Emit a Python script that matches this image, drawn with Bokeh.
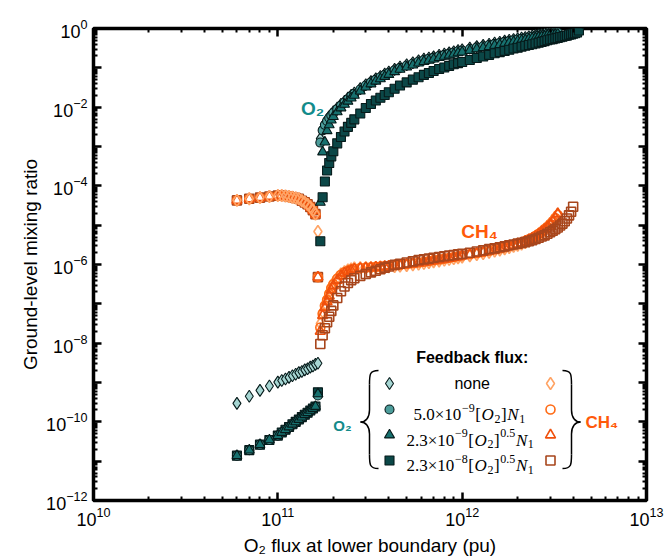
import numpy as np
from bokeh.plotting import figure
from bokeh.models import (FixedTicker, LogTickFormatter, LogAxis, Label, Range1d,
                          CustomJSTickFormatter)
from bokeh.embed import file_html
from bokeh.resources import INLINE

# ---------------- data ----------------
# O2 flux at lower boundary (pu)
x_anoxic = [6.0e10, 7.0e10, 8.0e10, 9.0e10, 1.00e11, 1.05e11, 1.10e11, 1.15e11, 1.20e11,
            1.25e11, 1.30e11, 1.35e11, 1.40e11, 1.45e11, 1.50e11, 1.55e11, 1.60e11, 1.65e11]
x_oxic = [1.70e11, 1.75e11, 1.80e11, 1.85e11, 1.90e11, 1.95e11, 2.0e11, 2.1e11, 2.2e11, 2.3e11,
          2.4e11, 2.5e11, 2.6e11, 2.8e11, 3.0e11, 3.2e11, 3.4e11, 3.6e11, 3.8e11, 4.0e11,
          4.3e11, 4.6e11, 5.0e11, 5.4e11, 5.8e11, 6.2e11, 6.6e11, 7.0e11, 7.5e11, 8.0e11,
          8.5e11, 9.0e11, 9.5e11, 1.0e12, 1.1e12, 1.2e12, 1.3e12, 1.4e12, 1.5e12, 1.6e12,
          1.7e12, 1.8e12, 1.9e12, 2.0e12, 2.1e12, 2.2e12, 2.3e12, 2.4e12, 2.5e12, 2.6e12,
          2.7e12, 2.8e12, 2.9e12, 3.0e12, 3.1e12, 3.2e12, 3.3e12, 3.4e12, 3.5e12, 3.6e12,
          3.7e12, 3.8e12, 3.9e12, 4.0e12, 4.1e12, 4.2e12, 4.3e12]

# log10 of ground-level mixing ratio, anoxic branch
o2_none_anoxic = [-9.53, -9.35, -9.20, -9.09, -8.99, -8.95, -8.91, -8.87, -8.83,
                  -8.79, -8.75, -8.72, -8.68, -8.65, -8.61, -8.58, -8.54, -8.51]
o2_lin_anoxic = [-10.86, -10.72, -10.58, -10.46, -10.35, -10.27, -10.20, -10.13, -10.06,
                 -10.00, -9.94, -9.88, -9.82, -9.77, -9.71, -9.66, -9.61, -9.33]
o2_sqrt9_anoxic = [-10.86, -10.72, -10.58, -10.46, -10.35, -10.27, -10.20, -10.13, -10.06,
                   -10.00, -9.94, -9.88, -9.82, -9.77, -9.71, -9.66, -9.61, -9.29]
o2_sqrt8_anoxic = [-10.86, -10.72, -10.58, -10.46, -10.35, -10.27, -10.20, -10.13, -10.06,
                   -10.00, -9.94, -9.88, -9.82, -9.77, -9.71, -9.66, -9.61, -9.25]
ch4_none_anoxic = [-4.37, -4.33, -4.30, -4.27, -4.25, -4.25, -4.26, -4.27, -4.29,
                   -4.31, -4.33, -4.38, -4.42, -4.47, -4.54, -4.62, -4.72, -5.16]
ch4_fb_anoxic = [-4.37, -4.33, -4.30, -4.27, -4.25, -4.25, -4.26, -4.27, -4.29,
                 -4.31, -4.33, -4.38, -4.42, -4.47, -4.54, -4.62, -4.72, -6.32]

# log10 of ground-level mixing ratio, oxic branch
o2_lin_oxic = [-2.90, -2.59, -2.45, -2.35, -2.27, -2.21, -2.15, -2.05, -1.96, -1.88,
               -1.80, -1.72, -1.66, -1.55, -1.45, -1.37, -1.30, -1.24, -1.18, -1.13,
               -1.06, -1.00, -0.94, -0.89, -0.84, -0.80, -0.77, -0.74, -0.70, -0.67,
               -0.64, -0.61, -0.58, -0.56, -0.52, -0.48, -0.45, -0.42, -0.39, -0.37,
               -0.34, -0.32, -0.30, -0.28, -0.26, -0.25, -0.23, -0.21, -0.20, -0.18,
               -0.17, -0.16, -0.14, -0.13, -0.12, -0.11, -0.10]
o2_none_oxic = [-2.80, -2.55, -2.42, -2.32, -2.24, -2.18, -2.12, -2.02, -1.93, -1.85,
                -1.77, -1.70, -1.64, -1.53, -1.43, -1.35, -1.28, -1.22, -1.16, -1.11,
                -1.04, -0.98, -0.92, -0.87, -0.82, -0.78, -0.75, -0.72, -0.68, -0.65,
                -0.62, -0.59, -0.56, -0.54, -0.50, -0.46, -0.43, -0.40, -0.37, -0.35,
                -0.32, -0.30, -0.28, -0.26, -0.24, -0.23, -0.21, -0.19, -0.18, -0.16,
                -0.15, -0.14, -0.12, -0.11, -0.10, -0.09, -0.08]
o2_sqrt9_oxic = [-4.42, -3.14, -2.89, -2.60, -2.45, -2.33, -2.24, -2.12, -2.02, -1.93,
                 -1.85, -1.77, -1.70, -1.59, -1.49, -1.41, -1.34, -1.28, -1.22, -1.17,
                 -1.10, -1.04, -0.98, -0.93, -0.88, -0.84, -0.81, -0.78, -0.74, -0.71,
                 -0.68, -0.65, -0.62, -0.60, -0.56, -0.52, -0.49, -0.46, -0.43, -0.41,
                 -0.38, -0.36, -0.34, -0.32, -0.30, -0.29, -0.27, -0.25, -0.24, -0.22,
                 -0.21, -0.20, -0.18, -0.17, -0.16, -0.15, -0.14]
o2_sqrt8_oxic = [-5.41, -4.29, -3.89, -3.61, -3.42, -3.25, -3.12, -2.92, -2.76, -2.62,
                 -2.50, -2.40, -2.31, -2.16, -2.02, -1.92, -1.83, -1.76, -1.69, -1.62,
                 -1.53, -1.45, -1.37, -1.30, -1.24, -1.18, -1.13, -1.08, -1.03, -0.99,
                 -0.95, -0.91, -0.88, -0.85, -0.80, -0.75, -0.71, -0.67, -0.63, -0.60,
                 -0.57, -0.54, -0.51, -0.49, -0.46, -0.44, -0.42, -0.40, -0.38, -0.36,
                 -0.34, -0.32, -0.30, -0.28, -0.27, -0.25, -0.24, -0.22, -0.21, -0.19,
                 -0.18, -0.16, -0.15, -0.13, -0.12, -0.10, -0.05]
ch4_none_oxic = [-7.50, -7.20, -7.00, -6.85, -6.70, -6.57, -6.47, -6.34, -6.24, -6.18,
                 -6.14, -6.11, -6.09, -6.08, -6.08, -6.08, -6.08, -6.07, -6.07, -6.06,
                 -6.05, -6.04, -6.03, -6.01, -5.99, -5.97, -5.95, -5.93, -5.91, -5.89,
                 -5.87, -5.85, -5.83, -5.81, -5.78, -5.75, -5.72, -5.69, -5.66, -5.63,
                 -5.60, -5.57, -5.54, -5.51, -5.48, -5.44, -5.40, -5.36, -5.31, -5.26,
                 -5.20, -5.14, -5.07, -5.00, -4.92, -4.83, -4.72]
ch4_lin_oxic = [-7.60, -7.25, -7.05, -6.90, -6.75, -6.60, -6.50, -6.36, -6.26, -6.20,
                -6.16, -6.13, -6.11, -6.09, -6.08, -6.07, -6.06, -6.05, -6.04, -6.03,
                -6.02, -6.01, -5.99, -5.97, -5.95, -5.93, -5.91, -5.89, -5.87, -5.85,
                -5.83, -5.81, -5.79, -5.77, -5.74, -5.71, -5.68, -5.65, -5.62, -5.59,
                -5.56, -5.53, -5.50, -5.47, -5.44, -5.40, -5.36, -5.32, -5.27, -5.22,
                -5.16, -5.10, -5.04, -4.97, -4.90, -4.82, -4.74]
ch4_sqrt9_oxic = [-7.70, -7.30, -7.10, -6.95, -6.80, -6.65, -6.54, -6.40, -6.29, -6.22,
                  -6.18, -6.15, -6.12, -6.10, -6.09, -6.08, -6.07, -6.06, -6.05, -6.04,
                  -6.03, -6.02, -6.00, -5.98, -5.96, -5.94, -5.92, -5.90, -5.88, -5.86,
                  -5.84, -5.82, -5.80, -5.78, -5.75, -5.72, -5.69, -5.66, -5.63, -5.60,
                  -5.57, -5.54, -5.51, -5.48, -5.45, -5.41, -5.37, -5.33, -5.28, -5.23,
                  -5.17, -5.11, -5.05, -4.98, -4.91, -4.82, -4.71]
ch4_sqrt8_oxic = [-8.02, -7.80, -7.62, -7.47, -7.33, -7.18, -7.04, -6.85, -6.68, -6.56,
                  -6.47, -6.40, -6.35, -6.29, -6.24, -6.20, -6.16, -6.12, -6.08, -6.05,
                  -6.01, -5.98, -5.95, -5.92, -5.89, -5.87, -5.85, -5.83, -5.81, -5.79,
                  -5.77, -5.76, -5.74, -5.73, -5.70, -5.67, -5.64, -5.61, -5.59, -5.56,
                  -5.54, -5.51, -5.49, -5.47, -5.45, -5.43, -5.41, -5.38, -5.35, -5.32,
                  -5.29, -5.26, -5.22, -5.18, -5.14, -5.10, -5.06, -5.01, -4.96, -4.90,
                  -4.83, -4.75, -4.66, -4.53]

# axis ticks
x_major = [1e10, 1e11, 1e12, 1e13]
y_exponents = list(range(-12, 1))

# ---------------- figure ----------------
W, H = 669, 560
FRAME_L, FRAME_T, FRAME_R, FRAME_B = 93, 28, 646, 500   # canvas px of the plot frame


def px_x(px):
    return 10 ** (10 + 3 * (px - FRAME_L) / (FRAME_R - FRAME_L))


def px_y(py):
    return 10 ** (-12 * (py - FRAME_T) / (FRAME_B - FRAME_T))


p = figure(width=W, height=H, x_axis_type="log", y_axis_type="log",
           x_range=Range1d(1e10, 1e13), y_range=Range1d(1e-12, 1),
           output_backend="svg", toolbar_location=None,
           min_border_left=FRAME_L, min_border_top=FRAME_T,
           min_border_right=W - FRAME_R, min_border_bottom=H - FRAME_B)
p.grid.visible = False
p.outline_line_color = "black"
p.outline_line_width = 3.5
p.background_fill_color = "white"
p.border_fill_color = "white"

x_minor = [m * float(f"1e{e}") for e in range(10, 13) for m in range(2, 10)]
y_major = [float(f"1e{e}") for e in y_exponents]
y_minor = [m * float(f"1e{e}") for e in y_exponents[:-1] for m in range(2, 10)]
xt = FixedTicker(ticks=x_major, minor_ticks=x_minor)
yt = FixedTicker(ticks=y_major, minor_ticks=y_minor)


def style_axis(ax):
    ax.axis_line_color = None
    ax.major_tick_in = 8
    ax.major_tick_out = 0
    ax.minor_tick_in = 4
    ax.minor_tick_out = 0
    ax.major_tick_line_width = 2.5
    ax.minor_tick_line_width = 2
    ax.major_label_text_font = "Liberation Sans"
    ax.major_label_text_font_size = "18px"
    ax.major_label_text_color = "black"
    ax.axis_label_text_font = "Liberation Sans"
    ax.axis_label_text_font_size = "19px"
    ax.axis_label_text_font_style = "normal"
    ax.axis_label_text_color = "black"


xa = p.xaxis[0]
xa.ticker = xt
xa.formatter = LogTickFormatter()
xa.axis_label = "O\u2082 flux at lower boundary (pu)"
style_axis(xa)
xa.major_label_standoff = 6
xa.axis_label_standoff = 6

ya = p.yaxis[0]
ya.ticker = yt
ya.formatter = LogTickFormatter()
ya.axis_label = "Ground-level mixing ratio"
style_axis(ya)
ya.major_label_standoff = 6
ya.axis_label_standoff = 2
ya.major_label_overrides = {float(f"1e{e}"): "" for e in y_exponents if e % 2 != 0}

blank = CustomJSTickFormatter(code="return ''")
top = LogAxis(ticker=xt, formatter=blank)
style_axis(top)
p.add_layout(top, "above")
right = LogAxis(ticker=yt, formatter=blank)
style_axis(right)
p.add_layout(right, "right")

# ---------------- series ----------------
def pts(xs, logs):
    return np.array(xs[:len(logs)], dtype=float), 10.0 ** np.array(logs, dtype=float)


O2_COL = {"none": "#a6d6d3", "lin": "#4c9d9b", "sqrt9": "#17716f", "sqrt8": "#0b4747"}
O2_EDGE = "#061a1a"
CH4_COL = {"none": "#ffa466", "lin": "#ff6a14", "sqrt9": "#f0500c", "sqrt8": "#a8461c"}
MARK = {"none": ("diamond", 12), "lin": ("circle", 9), "sqrt9": ("triangle", 10), "sqrt8": ("square", 9)}

o2_anox = {"none": o2_none_anoxic, "lin": o2_lin_anoxic, "sqrt9": o2_sqrt9_anoxic, "sqrt8": o2_sqrt8_anoxic}
o2_ox = {"none": o2_none_oxic, "lin": o2_lin_oxic, "sqrt9": o2_sqrt9_oxic, "sqrt8": o2_sqrt8_oxic}
ch4_anox = {"none": ch4_none_anoxic, "lin": ch4_fb_anoxic, "sqrt9": ch4_fb_anoxic, "sqrt8": ch4_fb_anoxic}
ch4_ox = {"none": ch4_none_oxic, "lin": ch4_lin_oxic, "sqrt9": ch4_sqrt9_oxic, "sqrt8": ch4_sqrt8_oxic}

# CH4 (open markers)
for k in ["none", "lin", "sqrt9", "sqrt8"]:
    m, s = MARK[k]
    xs, ys = pts(x_oxic, ch4_ox[k])
    p.scatter(xs, ys, marker=m, size=s, fill_color=None, line_color=CH4_COL[k], line_width=1.6)
for k in ["sqrt8", "lin", "sqrt9", "none"]:
    m, s = MARK[k]
    xs, ys = pts(x_anoxic, ch4_anox[k])
    p.scatter(xs, ys, marker=m, size=s, fill_color=None, line_color=CH4_COL[k], line_width=1.6)

# O2 (filled markers)
for k in ["none", "lin", "sqrt9", "sqrt8"]:
    m, s = MARK[k]
    xs, ys = pts(x_oxic, o2_ox[k])
    p.scatter(xs, ys, marker=m, size=s, fill_color=O2_COL[k], line_color=O2_EDGE, line_width=1.1)
for k in ["sqrt8", "lin", "sqrt9", "none"]:
    m, s = MARK[k]
    xs, ys = pts(x_anoxic, o2_anox[k])
    p.scatter(xs, ys, marker=m, size=s, fill_color=O2_COL[k], line_color=O2_EDGE, line_width=1.1)

# ---------------- annotations ----------------
TEAL = "#138b8b"
ORANGE = "#ff5a0a"


def lab(px, py, text, **kw):
    opts = dict(text_font="Liberation Sans", text_font_size="16px", text_color="black",
                text_align="left", text_baseline="middle")
    opts.update(kw)
    p.add_layout(Label(x=px_x(px), y=px_y(py), text=text, **opts))


lab(312, 108, "O\u2082", text_font_size="19px", text_font_style="bold", text_color=TEAL, text_align="center")
lab(479, 231, "CH\u2084", text_font_size="19px", text_font_style="bold", text_color=ORANGE, text_align="center")

# legend block
lab(471.7, 357, "Feedback flux:", text_font_style="bold", text_align="center")
rows_y = [383, 409, 434.5, 460]
lab(471.7, rows_y[0], "none", text_align="center")
lab(342, 425, "O\u2082", text_font_size="15px", text_font_style="bold", text_color=TEAL, text_align="center")
lab(585, 422, "CH\u2084", text_font_size="17px", text_font_style="bold", text_color=ORANGE)

TIMES = {"0": 500, "1": 500, "2": 500, "3": 500, "5": 500, "8": 500, "9": 500, ".": 250,
         "\u00d7": 564, "\u2212": 564, "[": 333, "]": 333, "O": 722, "N": 667}
SEG = {"n": (17, "normal", 0), "i": (17, "italic", 0), "sup": (12, "normal", 7), "sub": (12, "normal", -4)}


def math_row(x0, yc, segs):
    x = x0
    for txt, kind in segs:
        size, style, shift = SEG[kind]
        p.add_layout(Label(x=px_x(x), y=px_y(yc + 5 - shift), text=txt,
                           text_font="Liberation Serif", text_font_size=f"{size}px",
                           text_font_style=style, text_baseline="alphabetic",
                           text_align="left", text_color="black"))
        x += sum(TIMES[c] for c in txt) * size / 1000 + 0.6


math_row(413, rows_y[1], [("5.0\u00d710", "n"), ("\u22129", "sup"), ("[", "n"), ("O", "i"),
                          ("2", "sub"), ("]", "n"), ("N", "i"), ("1", "sub")])
math_row(406, rows_y[2], [("2.3\u00d710", "n"), ("\u22129", "sup"), ("[", "n"), ("O", "i"),
                          ("2", "sub"), ("]", "n"), ("0.5", "sup"), ("N", "i"), ("1", "sub")])
math_row(406, rows_y[3], [("2.3\u00d710", "n"), ("\u22128", "sup"), ("[", "n"), ("O", "i"),
                          ("2", "sub"), ("]", "n"), ("0.5", "sup"), ("N", "i"), ("1", "sub")])

# legend markers
keys = ["none", "lin", "sqrt9", "sqrt8"]
for i, k in enumerate(keys):
    m, s = MARK[k]
    p.scatter([px_x(389)], [px_y(rows_y[i])], marker=m, size=s, fill_color=O2_COL[k],
              line_color=O2_EDGE, line_width=1.1)
    p.scatter([px_x(550)], [px_y(rows_y[i])], marker=m, size=s, fill_color=None,
              line_color=CH4_COL[k], line_width=1.6)


# braces
def brace(xe, xc, xt_, yt0, ytip, yb0):
    d = 1 if xt_ < xc else -1
    segs = [
        ((xe, yt0), (xc, yt0 + 14), (xc, yt0), (xc, yt0 + 4)),
        ((xc, ytip - 12), (xt_, ytip), (xc, ytip - 4), (xc - d * 4, ytip)),
        ((xt_, ytip), (xc, ytip + 12), (xc - d * 4, ytip), (xc, ytip + 4)),
        ((xc, yb0 - 14), (xe, yb0), (xc, yb0 - 4), (xc, yb0)),
    ]
    for (a, b, c0, c1) in segs:
        p.bezier(x0=[px_x(a[0])], y0=[px_y(a[1])], x1=[px_x(b[0])], y1=[px_y(b[1])],
                 cx0=[px_x(c0[0])], cy0=[px_y(c0[1])], cx1=[px_x(c1[0])], cy1=[px_y(c1[1])],
                 line_color="black", line_width=1.5)
    p.segment(x0=[px_x(xc), px_x(xc)], y0=[px_y(yt0 + 14), px_y(ytip + 12)],
              x1=[px_x(xc), px_x(xc)], y1=[px_y(ytip - 12), px_y(yb0 - 14)],
              line_color="black", line_width=1.5)


brace(378, 369, 360, 370, 421.5, 468)
brace(562, 571, 580, 370, 421.5, 468)

open("out.html", "w").write(file_html(p, INLINE))
